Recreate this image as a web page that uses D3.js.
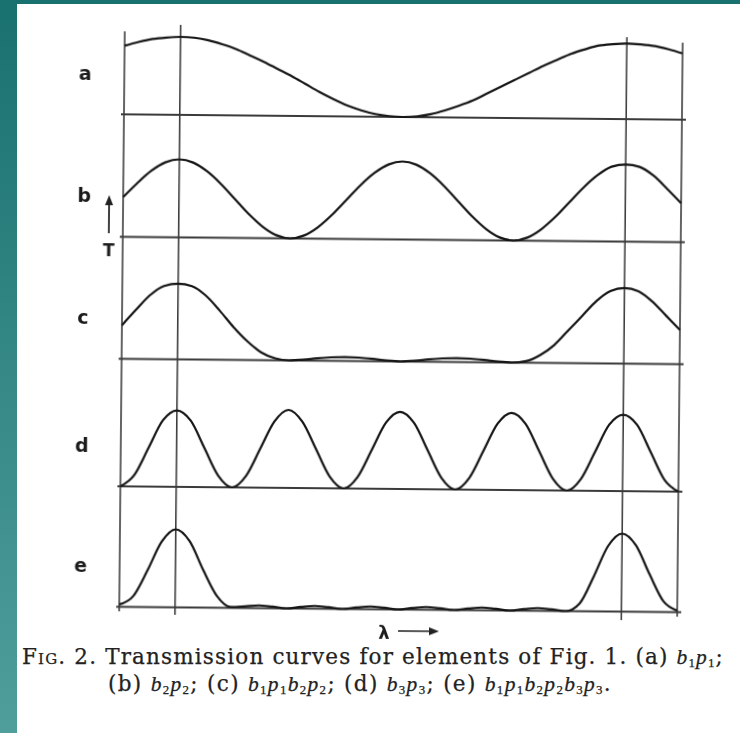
<!DOCTYPE html>
<html>
<head>
<meta charset="utf-8">
<script src="https://cdn.jsdelivr.net/npm/d3@7"></script>
<style>
  html, body { margin: 0; padding: 0; background: #fff; }
  svg { display: block; }
</style>
</head>
<body>
<svg id="fig" width="740" height="733"></svg>
<script>
// wavelength grid (units of the d-curve period), read every 1/8 period
var lambdas = [-0.5, -0.375, -0.25, -0.125, 0, 0.125, 0.25, 0.375, 0.5, 0.625, 0.75, 0.875,
               1, 1.125, 1.25, 1.375, 1.5, 1.625, 1.75, 1.875, 2, 2.125, 2.25, 2.375, 2.5,
               2.625, 2.75, 2.875, 3, 3.125, 3.25, 3.375, 3.5, 3.625, 3.75, 3.875, 4,
               4.125, 4.25, 4.375, 4.5];

// transmission, relative to the tallest peak
var curveA = [0.88,0.93,0.97,0.99,1.00,0.99,0.96,0.91,0.85,0.77,0.69,0.60,0.51,0.41,0.31,0.22,0.14,0.08,0.035,0.01,0.00,
              0.01,0.04,0.09,0.15,0.22,0.31,0.40,0.49,0.58,0.67,0.75,0.83,0.89,0.94,0.96,0.97,0.96,0.94,0.90,0.85];
var curveB = [0.51,0.69,0.85,0.96,1.00,0.96,0.85,0.69,0.50,0.31,0.15,0.04,0.00,0.04,0.15,0.31,0.50,0.69,0.85,0.96,1.00,
              0.96,0.85,0.69,0.50,0.31,0.15,0.04,0.00,0.04,0.15,0.31,0.50,0.69,0.85,0.96,0.99,0.96,0.85,0.68,0.50];
var curveC = [0.43,0.63,0.82,0.94,0.97,0.94,0.82,0.63,0.42,0.24,0.10,0.025,0.00,0.01,0.03,0.045,0.05,0.045,0.03,0.01,0.00,
              0.01,0.03,0.045,0.05,0.045,0.03,0.01,0.00,0.02,0.10,0.23,0.42,0.61,0.80,0.93,0.97,0.93,0.80,0.62,0.44];
var curveD = [0.00,0.15,0.50,0.85,0.98,0.85,0.50,0.15,0.00,0.15,0.50,0.85,1.00,0.85,0.50,0.15,0.00,0.15,0.50,0.85,0.99,
              0.85,0.50,0.15,0.00,0.15,0.50,0.85,0.99,0.85,0.50,0.15,0.00,0.15,0.50,0.85,0.98,0.85,0.50,0.15,0.00];
var curveE = [0.03,0.14,0.47,0.84,1.00,0.85,0.48,0.15,0.01,0.02,0.035,0.02,0.00,0.02,0.035,0.02,0.00,0.02,0.035,0.02,0.00,
              0.02,0.035,0.02,0.00,0.02,0.035,0.02,0.00,0.02,0.035,0.02,0.00,0.10,0.45,0.84,1.00,0.85,0.48,0.14,0.02];

var panelLabels = ["a", "b", "c", "d", "e"];
var panelCurves = [curveA, curveB, curveC, curveD, curveE];

// caption pieces: [text, style]  (sc = small caps, i = italic, sub = subscript)
var caption1 = [["Fig.", "sc"], [" 2. Transmission curves for elements of Fig. 1. (a) ", ""],
                ["b", "i"], ["1", "sub"], ["p", "i"], ["1", "sub"], [";", ""]];
var caption2 = [["(b) ", ""], ["b", "i"], ["2", "sub"], ["p", "i"], ["2", "sub"], ["; (c) ", ""],
                ["b", "i"], ["1", "sub"], ["p", "i"], ["1", "sub"], ["b", "i"], ["2", "sub"], ["p", "i"], ["2", "sub"],
                ["; (d) ", ""], ["b", "i"], ["3", "sub"], ["p", "i"], ["3", "sub"], ["; (e) ", ""],
                ["b", "i"], ["1", "sub"], ["p", "i"], ["1", "sub"], ["b", "i"], ["2", "sub"], ["p", "i"], ["2", "sub"],
                ["b", "i"], ["3", "sub"], ["p", "i"], ["3", "sub"], [".", ""]];

var W = 740, H = 733;
var baselines = [117, 239.5, 361.5, 489, 609.5];
var panelH = 78;

var svg = d3.select("#fig");
var defs = svg.append("defs");

var grad = defs.append("linearGradient").attr("id", "teal")
    .attr("x1", 0).attr("y1", 0).attr("x2", 0).attr("y2", 1);
grad.append("stop").attr("offset", "0%").attr("stop-color", "#19716f");
grad.append("stop").attr("offset", "100%").attr("stop-color", "#4f9e9c");

defs.append("filter").attr("id", "soft")
    .append("feGaussianBlur").attr("stdDeviation", 0.45);

svg.append("rect").attr("width", W).attr("height", H).attr("fill", "url(#teal)");
svg.append("rect").attr("x", 17).attr("y", 4).attr("width", W - 17).attr("height", H - 4).attr("fill", "#fff");

var x = d3.scaleLinear().domain([-0.5, 4.5]).range([122, 680]);

// the scanned page sits slightly rotated
var fig = svg.append("g")
    .attr("transform", "rotate(0.55,401,320)")
    .attr("filter", "url(#soft)");

// frame and the two guide lines through the outer peaks
var verticals = [
    {l: -0.5, y0: 34, y1: 614},
    {l: 0,    y0: 27, y1: 617},
    {l: 4,    y0: 35, y1: 618},
    {l: 4.5,  y0: 40, y1: 614}
];
fig.selectAll("line.v")
    .data(verticals)
    .join("line")
    .attr("class", "v")
    .attr("x1", d => x(d.l)).attr("x2", d => x(d.l))
    .attr("y1", d => d.y0).attr("y2", d => d.y1)
    .attr("stroke", "#333")
    .attr("stroke-width", 1.5);

panelCurves.forEach(function(vals, i) {
    var base = baselines[i];
    var y = d3.scaleLinear().domain([0, 1]).range([base, base - panelH]);

    fig.append("line")
        .attr("x1", x(-0.5) - 3).attr("x2", x(4.5) + 4)
        .attr("y1", y(0)).attr("y2", y(0))
        .attr("stroke", "#3a3a3a")
        .attr("stroke-width", 1.9);

    var line = d3.line()
        .x((d, j) => x(lambdas[j]))
        .y(d => y(d))
        .curve(d3.curveMonotoneX);

    fig.append("path")
        .datum(vals)
        .attr("d", line)
        .attr("fill", "none")
        .attr("stroke", "#151515")
        .attr("stroke-width", 2.2);

    fig.append("text")
        .attr("x", 83)
        .attr("y", base - 41)
        .attr("dy", "0.35em")
        .attr("text-anchor", "middle")
        .attr("font-family", "DejaVu Sans")
        .attr("font-weight", "bold")
        .attr("font-size", 19)
        .attr("fill", "#1e1e1e")
        .text(panelLabels[i]);
});

// T axis arrow
defs.append("marker").attr("id", "head")
    .attr("viewBox", "0 0 10 10").attr("refX", 5).attr("refY", 5)
    .attr("markerWidth", 6).attr("markerHeight", 6).attr("orient", "auto-start-reverse")
    .append("path").attr("d", "M0,1 L10,5 L0,9 Z").attr("fill", "#222");

fig.append("line")
    .attr("x1", 108).attr("x2", 108).attr("y1", 236).attr("y2", 203)
    .attr("stroke", "#222").attr("stroke-width", 1.7)
    .attr("marker-end", "url(#head)");
fig.append("text")
    .attr("x", 108).attr("y", 259)
    .attr("text-anchor", "middle")
    .attr("font-family", "DejaVu Sans").attr("font-weight", "bold").attr("font-size", 17)
    .attr("fill", "#1e1e1e")
    .text("T");

// lambda arrow
fig.append("text")
    .attr("x", 387).attr("y", 639)
    .attr("text-anchor", "middle")
    .attr("font-family", "DejaVu Sans").attr("font-weight", "bold").attr("font-size", 18)
    .attr("fill", "#1e1e1e")
    .text("λ");
fig.append("line")
    .attr("x1", 401).attr("x2", 437).attr("y1", 631).attr("y2", 631)
    .attr("stroke", "#222").attr("stroke-width", 1.7)
    .attr("marker-end", "url(#head)");

// caption
function writeLine(sel, segs) {
    var shifted = false;
    segs.forEach(function(s) {
        var ts = sel.append("tspan").text(s[0]);
        if (s[1] === "sub") {
            ts.attr("dy", shifted ? 0 : 3).attr("font-size", "0.6em")
              .attr("font-family", "Liberation Serif");
            shifted = true;
        } else {
            if (shifted) ts.attr("dy", -3);
            shifted = false;
            if (s[1] === "i") ts.attr("font-style", "italic").attr("font-family", "Liberation Serif");
            if (s[1] === "sc") ts.style("font-variant", "small-caps");
        }
    });
}

var capFont = 21.5;
var cap1 = svg.append("text")
    .attr("x", 22).attr("y", 664)
    .attr("font-family", "DejaVu Serif").attr("font-size", capFont)
    .attr("fill", "#222")
    .attr("stroke", "#222").attr("stroke-width", 0.25)
    .style("white-space", "pre");
writeLine(cap1, caption1);
var cap2 = svg.append("text")
    .attr("x", 108).attr("y", 690.5)
    .attr("font-family", "DejaVu Serif").attr("font-size", capFont)
    .attr("fill", "#222")
    .attr("stroke", "#222").attr("stroke-width", 0.25)
    .style("white-space", "pre");
writeLine(cap2, caption2);

// nudge the letter spacing so each line keeps its printed width
function fitWidth(sel, segs, target) {
    var w = sel.node().getComputedTextLength();
    var n = segs.reduce((s, p) => s + p[0].length, 0);
    sel.attr("letter-spacing", (target - w) / n);
}
fitWidth(cap1, caption1, 702);
fitWidth(cap2, caption2, 504);
</script>
</body>
</html>
